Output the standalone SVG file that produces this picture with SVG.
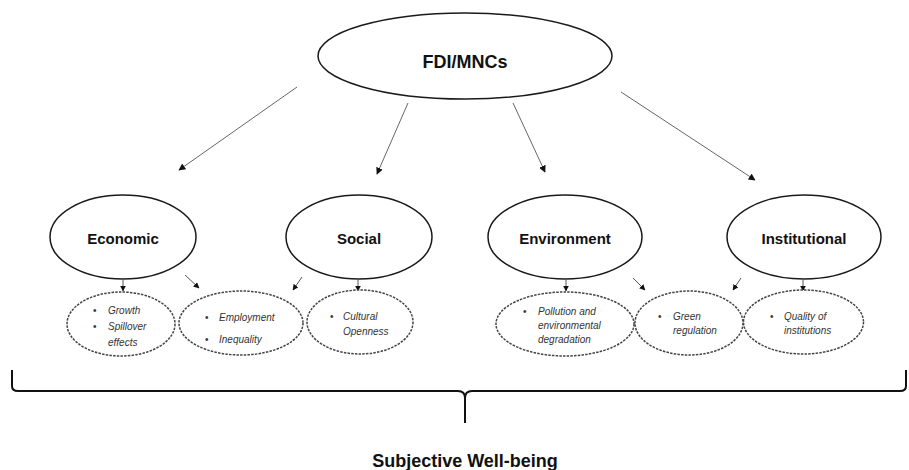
<svg xmlns="http://www.w3.org/2000/svg" width="909" height="470" viewBox="0 0 909 470">
<style>
.main{fill:#fff;stroke:#1a1a1a;stroke-width:1.5}
.sub{fill:#fff;stroke:#444;stroke-width:1.5;stroke-dasharray:2.5 1.2}
.t{font-family:"Liberation Sans",Arial,sans-serif;font-weight:bold;fill:#111;text-anchor:middle}
.s{font-family:"Liberation Sans",Arial,sans-serif;font-style:italic;font-size:10px;fill:#333}
.b{font-family:"Liberation Sans",Arial,sans-serif;font-size:10px;fill:#333}
.lg{stroke:#666;stroke-width:1;fill:none}
.sm{stroke:#555;stroke-width:1;fill:none}
</style>
<defs>
<marker id="ah" viewBox="0 0 10 10" refX="9" refY="5" markerWidth="7" markerHeight="7" markerUnits="userSpaceOnUse" orient="auto">
<path d="M0,0 L10,5 L0,10 z" fill="#111"/>
</marker>
<marker id="ahs" viewBox="0 0 10 10" refX="9" refY="5" markerWidth="6" markerHeight="6" markerUnits="userSpaceOnUse" orient="auto">
<path d="M0,0 L10,5 L0,10 z" fill="#111"/>
</marker>
</defs>
<rect width="909" height="470" fill="#fff"/>

<g id="connectors">
<line class="lg" x1="297" y1="87" x2="179" y2="170" marker-end="url(#ah)"/>
<line class="lg" x1="408" y1="103" x2="377" y2="174" marker-end="url(#ah)"/>
<line class="lg" x1="513" y1="103" x2="545" y2="172" marker-end="url(#ah)"/>
<line class="lg" x1="621" y1="92" x2="755" y2="180" marker-end="url(#ah)"/>
<line class="sm" x1="123" y1="280" x2="123" y2="291" marker-end="url(#ahs)"/>
<line class="sm" x1="185" y1="275" x2="199" y2="288" marker-end="url(#ahs)"/>
<line class="sm" x1="302" y1="277" x2="293" y2="290" marker-end="url(#ahs)"/>
<line class="sm" x1="358" y1="280" x2="358" y2="291" marker-end="url(#ahs)"/>
<line class="sm" x1="566" y1="280" x2="566" y2="291" marker-end="url(#ahs)"/>
<line class="sm" x1="633" y1="278" x2="645" y2="290" marker-end="url(#ahs)"/>
<line class="sm" x1="741" y1="278" x2="733" y2="290" marker-end="url(#ahs)"/>
<line class="sm" x1="803" y1="280" x2="803" y2="291" marker-end="url(#ahs)"/>
</g>

<g id="fdi">
<ellipse class="main" cx="465" cy="56" rx="147" ry="43"/>
<text class="t" x="465" y="68" font-size="18">FDI/MNCs</text>
</g>

<g id="economic">
<ellipse class="main" cx="123" cy="237" rx="73" ry="42"/>
<text class="t" x="123" y="244" font-size="15">Economic</text>
</g>
<g id="social">
<ellipse class="main" cx="359" cy="237" rx="73" ry="42"/>
<text class="t" x="359" y="244" font-size="15">Social</text>
</g>
<g id="environment">
<ellipse class="main" cx="565" cy="237" rx="77" ry="42"/>
<text class="t" x="565" y="244" font-size="15">Environment</text>
</g>
<g id="institutional">
<ellipse class="main" cx="804" cy="237" rx="77" ry="42"/>
<text class="t" x="804" y="244" font-size="15">Institutional</text>
</g>

<g id="growth">
<ellipse class="sub" cx="121" cy="324" rx="54" ry="32"/>
<text class="b" x="93" y="314">•</text><text class="s" x="108" y="314">Growth</text>
<text class="b" x="93" y="330">•</text><text class="s" x="108" y="330">Spillover</text>
<text class="s" x="108" y="346">effects</text>
</g>
<g id="employment">
<ellipse class="sub" cx="241" cy="323" rx="62" ry="32"/>
<text class="b" x="205" y="321">•</text><text class="s" x="219" y="321">Employment</text>
<text class="b" x="205" y="343">•</text><text class="s" x="219" y="343">Inequality</text>
</g>
<g id="cultural">
<ellipse class="sub" cx="360" cy="322" rx="53" ry="32"/>
<text class="b" x="330" y="320">•</text><text class="s" x="343" y="320">Cultural</text>
<text class="s" x="343" y="335">Openness</text>
</g>
<g id="pollution">
<ellipse class="sub" cx="565" cy="324" rx="69" ry="32"/>
<text class="b" x="523" y="315">•</text><text class="s" x="538" y="315">Pollution and</text>
<text class="s" x="538" y="329">environmental</text>
<text class="s" x="538" y="343">degradation</text>
</g>
<g id="green">
<ellipse class="sub" cx="689" cy="323" rx="54" ry="32"/>
<text class="b" x="658" y="320">•</text><text class="s" x="673" y="320">Green</text>
<text class="s" x="673" y="334">regulation</text>
</g>
<g id="quality">
<ellipse class="sub" cx="803.5" cy="322" rx="60" ry="32"/>
<text class="b" x="770" y="320">•</text><text class="s" x="784" y="320">Quality of</text>
<text class="s" x="784" y="334">institutions</text>
</g>

<g id="brace">
<path d="M12,370 V386 Q12,391 18,391 H458 Q465,391 465,398 V423 M465,398 Q465,391 472,391 H900 Q906,391 906,386 V370" fill="none" stroke="#111" stroke-width="2"/>
</g>
<g id="wellbeing">
<text class="t" x="465" y="467" font-size="18">Subjective Well-being</text>
</g>
</svg>
